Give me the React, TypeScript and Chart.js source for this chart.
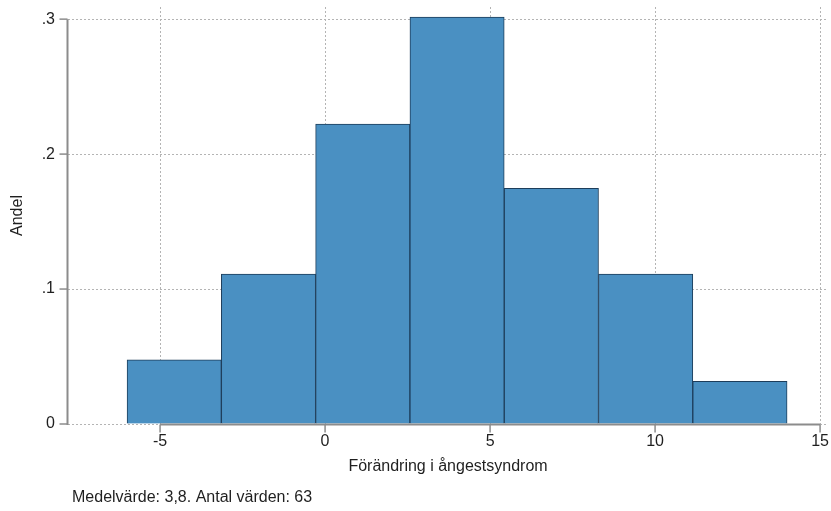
import React, { useEffect, useRef } from "react";
import { Chart, registerables } from "chart.js";

Chart.register(...registerables);

// Histogram bin edges (Förändring i ångestsyndrom)
const binEdges = [-6, -3.143, -0.286, 2.571, 5.429, 8.286, 11.143, 14];
// Share (Andel) per bin
const binShares = [0.0476, 0.1111, 0.2222, 0.3016, 0.1746, 0.1111, 0.0317];
// Tick values and labels
const xTickValues = [-5, 0, 5, 10, 15];
const xTickLabels = ["-5", "0", "5", "10", "15"];
const yTickValues = [0, 0.1, 0.2, 0.3];
const yTickLabels = ["0", ".1", ".2", ".3"];

const xTitle = "Förändring i ångestsyndrom";
const yTitle = "Andel";
const footerNote = "Medelvärde: 3,8. Antal värden: 63";

const FONT = "'Liberation Sans', Arial, sans-serif";
const TEXT = "#1f1f1f";
const AXIS = "#8c8c8c";
const FS = 16;

export default function App() {
  const ref = useRef<HTMLCanvasElement | null>(null);

  useEffect(() => {
    document.body.style.margin = "0";
    const canvas = ref.current;
    if (!canvas) return;

    const points = binShares.map((y, i) => ({
      x: (binEdges[i] + binEdges[i + 1]) / 2,
      y,
    }));

    const axisPlugin = {
      id: "stataAxes",
      afterDatasetsDraw(chart: any) {
        const { ctx, chartArea, scales } = chart;
        const xs = scales.x;
        const ys = scales.y;
        ctx.save();
        ctx.strokeStyle = AXIS;
        ctx.lineWidth = 2;
        ctx.setLineDash([]);
        // y axis
        const yTop = ys.getPixelForValue(yTickValues[yTickValues.length - 1]);
        const yBot = ys.getPixelForValue(yTickValues[0]);
        const ax = chartArea.left - 0.5;
        ctx.beginPath();
        ctx.moveTo(ax, yTop);
        ctx.lineTo(ax, yBot + 1);
        ctx.stroke();
        ctx.lineWidth = 1.5;
        yTickValues.forEach((v) => {
          const py = ys.getPixelForValue(v);
          ctx.beginPath();
          ctx.moveTo(ax - 8, py);
          ctx.lineTo(ax, py);
          ctx.stroke();
        });
        // x axis
        const xl = xs.getPixelForValue(xTickValues[0]);
        const xr = xs.getPixelForValue(xTickValues[xTickValues.length - 1]);
        const ay = chartArea.bottom + 0.5;
        ctx.lineWidth = 2;
        ctx.beginPath();
        ctx.moveTo(xl, ay);
        ctx.lineTo(xr, ay);
        ctx.stroke();
        ctx.lineWidth = 1.5;
        xTickValues.forEach((v) => {
          const px = xs.getPixelForValue(v);
          ctx.beginPath();
          ctx.moveTo(px, ay);
          ctx.lineTo(px, ay + 8);
          ctx.stroke();
        });
        ctx.restore();
      },
      afterDraw(chart: any) {
        const { ctx, chartArea } = chart;
        ctx.save();
        ctx.fillStyle = TEXT;
        ctx.font = `${FS}px ${FONT}`;
        ctx.textAlign = "left";
        ctx.textBaseline = "middle";
        ctx.fillText(footerNote, chartArea.left + 4, chart.height - 13);
        ctx.restore();
      },
    };

    const zeroPad = (s: any) => {
      s.paddingTop = 0;
      s.paddingBottom = 0;
      s.paddingLeft = 0;
      s.paddingRight = 0;
    };

    const chart = new Chart(canvas, {
      type: "bar",
      data: {
        datasets: [
          {
            data: points,
            backgroundColor: "#4a90c2",
            borderColor: "#1d3d5a",
            borderWidth: 1,
            borderSkipped: "bottom",
            barPercentage: 1,
            categoryPercentage: 1,
          },
        ],
      },
      options: {
        responsive: false,
        animation: false,
        layout: { padding: { top: 7, right: 3, bottom: 35, left: 0 } },
        plugins: {
          legend: { display: false },
          tooltip: { enabled: false },
          title: { display: false },
        },
        scales: {
          x: {
            type: "linear",
            offset: false,
            min: -7.79,
            max: 15.24,
            afterFit: (s: any) => {
              s.height = 52;
              zeroPad(s);
            },
            afterBuildTicks: (s: any) => {
              s.ticks = xTickValues.map((v) => ({ value: v }));
            },
            grid: {
              offset: false,
              color: "#b4b4b4",
              lineWidth: 1,
              drawTicks: false,
            },
            border: { display: false, dash: [2, 2] },
            ticks: {
              padding: 8,
              color: TEXT,
              font: { family: FONT, size: FS },
              maxRotation: 0,
              autoSkip: false,
              callback: (v: any) => {
                const i = xTickValues.indexOf(Number(v));
                return i >= 0 ? xTickLabels[i] : "";
              },
            },
            title: {
              display: true,
              text: xTitle,
              color: TEXT,
              font: { family: FONT, size: FS },
              padding: { top: 0, bottom: 0 },
            },
          },
          y: {
            type: "linear",
            min: 0,
            max: 0.309,
            afterFit: (s: any) => {
              s.width = 68;
              zeroPad(s);
            },
            afterBuildTicks: (s: any) => {
              s.ticks = yTickValues.map((v) => ({ value: v }));
            },
            grid: {
              color: "#b4b4b4",
              lineWidth: 1,
              drawTicks: false,
            },
            border: { display: false, dash: [2, 2] },
            ticks: {
              padding: 13,
              color: TEXT,
              font: { family: FONT, size: FS },
              autoSkip: false,
              callback: (v: any) => {
                const i = yTickValues.findIndex((t) => Math.abs(t - Number(v)) < 1e-9);
                return i >= 0 ? yTickLabels[i] : "";
              },
            },
            title: {
              display: true,
              text: yTitle,
              color: TEXT,
              font: { family: FONT, size: FS },
              padding: { top: 8, bottom: 0 },
            },
          },
        },
      },
      plugins: [axisPlugin],
    } as any);

    return () => chart.destroy();
  }, []);

  return (
    <div style={{ position: "absolute", left: 0, top: 0, width: 831, height: 511 }}>
      <canvas ref={ref} width={831} height={511} style={{ display: "block" }} />
    </div>
  );
}
